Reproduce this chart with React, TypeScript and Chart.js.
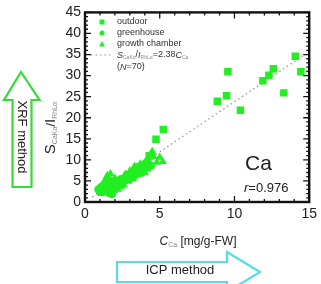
import React, { useEffect, useRef } from "react";
import { Chart, registerables } from "chart.js";

Chart.register(...registerables);

// Outdoor samples (large squares)
const outdoorX = [14.07, 14.44, 12.6, 12.3, 11.9, 13.3, 10.4, 9.56, 9.47, 8.85, 5.24, 4.75, 4.3];
const outdoorY = [34.6, 30.9, 31.6, 30.1, 28.8, 25.9, 21.8, 30.9, 25.2, 23.9, 17.2, 14.9, 11.0];

// Greenhouse samples (circles)
const greenhouseX = [0.9, 1.0, 1.1, 1.2, 1.3, 1.4, 1.5, 1.6, 1.7, 1.8, 1.9, 2.0, 2.1, 2.3, 2.4, 2.5, 2.7, 2.8, 3.0, 3.1, 3.3, 3.5, 3.6, 3.8, 4.0, 4.2, 4.4];
const greenhouseY = [3.0, 2.4, 3.6, 2.6, 4.2, 3.0, 4.6, 2.2, 3.4, 1.9, 4.8, 3.0, 3.9, 4.4, 5.4, 4.6, 5.2, 6.4, 5.5, 6.9, 6.2, 7.5, 8.4, 7.0, 8.0, 9.4, 8.6];

// Growth chamber samples (triangles)
const chamberX = [1.1, 1.3, 1.4, 1.5, 1.6, 1.7, 1.8, 2.0, 2.2, 2.4, 2.6, 2.7, 2.9, 3.0, 3.2, 3.4, 3.5, 3.7, 3.9, 4.0, 4.2, 4.3, 4.4, 4.6, 4.8, 5.0, 5.2, 4.5, 4.1, 3.3];
const chamberY = [2.0, 4.8, 5.6, 6.3, 5.4, 6.7, 5.0, 5.6, 3.0, 3.6, 4.0, 6.6, 4.9, 7.4, 5.5, 8.2, 6.4, 9.0, 9.0, 7.0, 7.8, 10.6, 11.4, 10.8, 9.4, 10.6, 9.6, 12.0, 9.9, 8.4];

// Regression S/I = 2.38 C
const slope = 2.38;
const fitRange = [0.5, 14.6];

const xTicks = [0, 5, 10, 15];
const yTicks = [0, 5, 10, 15, 20, 25, 30, 35, 40, 45];

const GREEN = "#22ee22";
const FONT = "'Liberation Sans', Arial, sans-serif";

const toPts = (xs: number[], ys: number[]) => xs.map((x, i) => ({ x, y: ys[i] }));

type Run = { t: string; size: number; color?: string; italic?: boolean; dy?: number };

function drawRuns(ctx: CanvasRenderingContext2D, runs: Run[], x: number, y: number, align: "left" | "center" = "left") {
  const measure = () => {
    let w = 0;
    for (const r of runs) {
      ctx.font = `${r.italic ? "italic " : ""}${r.size}px ${FONT}`;
      w += ctx.measureText(r.t).width;
    }
    return w;
  };
  let cx = align === "center" ? x - measure() / 2 : x;
  ctx.textBaseline = "middle";
  ctx.textAlign = "left";
  for (const r of runs) {
    ctx.font = `${r.italic ? "italic " : ""}${r.size}px ${FONT}`;
    ctx.fillStyle = r.color || "#222";
    ctx.fillText(r.t, cx, y + (r.dy || 0));
    cx += ctx.measureText(r.t).width;
  }
}

const decorPlugin = {
  id: "decor",
  afterDraw(chart: any) {
    const ctx: CanvasRenderingContext2D = chart.ctx;
    const xs = chart.scales.x;
    const ys = chart.scales.y;
    const { left, right, top, bottom } = chart.chartArea;
    ctx.save();

    // frame and inward ticks
    ctx.strokeStyle = "#111";
    ctx.lineWidth = 2.4;
    ctx.strokeRect(left, top, right - left, bottom - top);
    ctx.lineWidth = 1.3;
    ctx.beginPath();
    for (let v = 0; v <= 15; v++) {
      const px = xs.getPixelForValue(v);
      const len = v % 5 === 0 ? 6 : 3;
      ctx.moveTo(px, bottom);
      ctx.lineTo(px, bottom - len);
      ctx.moveTo(px, top);
      ctx.lineTo(px, top + len);
    }
    for (let v = 0; v <= 45; v++) {
      const py = ys.getPixelForValue(v);
      const len = v % 5 === 0 ? 6 : 3;
      ctx.moveTo(left, py);
      ctx.lineTo(left + len, py);
      ctx.moveTo(right, py);
      ctx.lineTo(right - len, py);
    }
    ctx.stroke();

    // legend
    const lx = left + 17;
    ctx.fillStyle = GREEN;
    ctx.fillRect(lx - 2.5, 19.5, 5, 5);
    ctx.beginPath();
    ctx.arc(lx, 33, 2.5, 0, Math.PI * 2);
    ctx.fill();
    ctx.beginPath();
    ctx.moveTo(lx, 41);
    ctx.lineTo(lx + 3, 46.5);
    ctx.lineTo(lx - 3, 46.5);
    ctx.closePath();
    ctx.fill();
    ctx.strokeStyle = "#999";
    ctx.lineWidth = 1.2;
    ctx.setLineDash([1.5, 3]);
    ctx.beginPath();
    ctx.moveTo(left + 6, 55);
    ctx.lineTo(left + 28, 55);
    ctx.stroke();
    ctx.setLineDash([]);
    const tx = left + 32;
    drawRuns(ctx, [{ t: "outdoor", size: 9, color: "#333" }], tx, 22);
    drawRuns(ctx, [{ t: "greenhouse", size: 9, color: "#333" }], tx, 33);
    drawRuns(ctx, [{ t: "growth chamber", size: 9, color: "#333" }], tx, 44);
    drawRuns(ctx, [
      { t: "S", size: 9, italic: true, color: "#333" },
      { t: "CaKα", size: 5, color: "#888", dy: 2.5 },
      { t: "/", size: 9, color: "#333" },
      { t: "I", size: 9, italic: true, color: "#333" },
      { t: "RhLα", size: 5, color: "#888", dy: 2.5 },
      { t: "=2.38", size: 9, color: "#333" },
      { t: "C", size: 9, italic: true, color: "#333" },
      { t: "Ca", size: 5, color: "#888", dy: 2.5 },
    ], tx, 55);
    drawRuns(ctx, [{ t: "(", size: 9, color: "#333" }, { t: "N", size: 9, italic: true, color: "#333" }, { t: "=70)", size: 9, color: "#333" }], tx, 67);

    // element label and correlation
    drawRuns(ctx, [{ t: "Ca", size: 21, color: "#222" }], 245, 164);
    drawRuns(ctx, [{ t: "r", size: 13, italic: true, color: "#222" }, { t: "=0.976", size: 13, color: "#222" }], 244, 188);

    // x-axis title
    drawRuns(ctx, [
      { t: "C", size: 12, italic: true, color: "#222" },
      { t: "Ca", size: 7, color: "#888", dy: 3 },
      { t: " [mg/g-FW]", size: 12, color: "#222" },
    ], 198, 242, "center");

    // y-axis title (rotated)
    ctx.save();
    ctx.translate(51, 128);
    ctx.rotate(-Math.PI / 2);
    drawRuns(ctx, [
      { t: "S", size: 15, color: "#222" },
      { t: "CaKα", size: 7, color: "#888", dy: 4 },
      { t: "/", size: 13, color: "#222" },
      { t: "I", size: 15, color: "#222" },
      { t: "RhLα", size: 7, color: "#888", dy: 4 },
    ], 0, 0, "center");
    ctx.restore();

    // XRF arrow (up)
    ctx.strokeStyle = "#33dd33";
    ctx.lineWidth = 2.2;
    ctx.fillStyle = "#fff";
    ctx.beginPath();
    ctx.moveTo(21, 72);
    ctx.lineTo(39.5, 100);
    ctx.lineTo(31.5, 100);
    ctx.lineTo(31.5, 187);
    ctx.lineTo(12.5, 187);
    ctx.lineTo(12.5, 100);
    ctx.lineTo(4, 100);
    ctx.closePath();
    ctx.fill();
    ctx.stroke();
    ctx.save();
    ctx.translate(22, 137);
    ctx.rotate(Math.PI / 2);
    drawRuns(ctx, [{ t: "XRF method", size: 13, color: "#222" }], 0, 0, "center");
    ctx.restore();

    // ICP arrow (right)
    ctx.strokeStyle = "#55dde6";
    ctx.beginPath();
    ctx.moveTo(260, 272);
    ctx.lineTo(227, 252);
    ctx.lineTo(227, 262);
    ctx.lineTo(117, 262);
    ctx.lineTo(117, 282);
    ctx.lineTo(227, 282);
    ctx.lineTo(227, 292);
    ctx.closePath();
    ctx.fill();
    ctx.stroke();
    drawRuns(ctx, [{ t: "ICP method", size: 13, color: "#222" }], 180, 270, "center");

    ctx.restore();
  },
};

export default function App() {
  const ref = useRef<HTMLCanvasElement>(null);

  useEffect(() => {
    if (!ref.current) return;
    const chart = new Chart(ref.current, {
      type: "scatter",
      data: {
        datasets: [
          {
            label: "fit",
            type: "line",
            data: fitRange.map((x) => ({ x, y: slope * x })),
            borderColor: "#999",
            borderWidth: 1.3,
            borderDash: [1.5, 3],
            pointRadius: 0,
            order: 10,
          } as any,
          {
            label: "growth chamber",
            data: toPts(chamberX, chamberY),
            pointStyle: "triangle",
            pointRadius: 4.8,
            backgroundColor: GREEN,
            borderColor: GREEN,
            borderWidth: 0,
            order: 3,
          },
          {
            label: "greenhouse",
            data: toPts(greenhouseX, greenhouseY),
            pointStyle: "circle",
            pointRadius: 4.2,
            backgroundColor: GREEN,
            borderColor: GREEN,
            borderWidth: 0,
            order: 2,
          },
          {
            label: "outdoor",
            data: toPts(outdoorX, outdoorY),
            pointStyle: "rect",
            pointRadius: 5.3,
            backgroundColor: GREEN,
            borderColor: GREEN,
            borderWidth: 0,
            order: 1,
          },
        ],
      },
      options: {
        responsive: false,
        animation: false,
        layout: { padding: { top: 7, right: 10, left: 0, bottom: 0 } },
        plugins: { legend: { display: false }, tooltip: { enabled: false } },
        scales: {
          x: {
            type: "linear",
            min: 0,
            max: 15,
            afterBuildTicks: (s: any) => { s.ticks = xTicks.map((v) => ({ value: v })); },
            afterFit: (s: any) => { s.height = 82; },
            grid: { display: false, drawTicks: false },
            border: { display: false },
            ticks: { padding: 4, color: "#222", font: { family: FONT, size: 14 } },
          },
          y: {
            type: "linear",
            min: 0,
            max: 45,
            afterBuildTicks: (s: any) => { s.ticks = yTicks.map((v) => ({ value: v })); },
            afterFit: (s: any) => { s.width = 85; },
            grid: { display: false, drawTicks: false },
            border: { display: false },
            ticks: { padding: 4, color: "#222", font: { family: FONT, size: 14 } },
          },
        },
      },
      plugins: [decorPlugin],
    });
    return () => chart.destroy();
  }, []);

  return (
    <div style={{ position: "fixed", left: 0, top: 0, width: 321, height: 284, background: "#fff" }}>
      <canvas ref={ref} width={321} height={284} style={{ display: "block", width: 321, height: 284 }} />
    </div>
  );
}
